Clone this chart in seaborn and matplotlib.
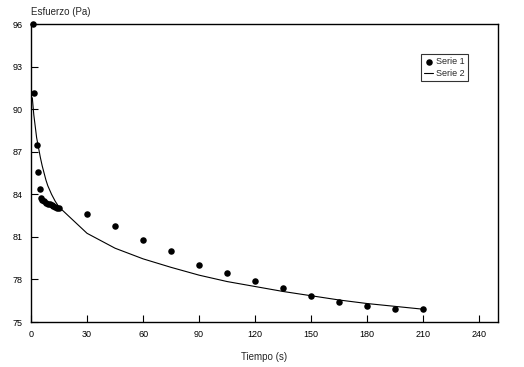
import matplotlib
matplotlib.use('Agg')
import matplotlib.pyplot as plt
import seaborn as sns
import pandas as pd

# datos
tiempo_1 = [1, 1.5, 3, 4, 5, 5.5, 6, 7, 8, 9, 10, 11, 12, 13, 14, 15,
            30, 45, 60, 75, 90, 105, 120, 135, 150, 165, 180, 195, 210]
esfuerzo_1 = [96.0, 91.15, 87.5, 85.6, 84.4, 83.75, 83.6, 83.5, 83.4, 83.35,
              83.3, 83.25, 83.2, 83.1, 83.05, 83.05,
              82.6, 81.75, 80.75, 80.0, 79.05, 78.45, 77.9, 77.4, 76.85,
              76.4, 76.15, 75.95, 75.9]

tiempo_2 = [0.7, 1.5, 3, 4, 5, 5.5, 6, 7, 8, 9, 10, 11, 12, 13, 14, 15,
            30, 45, 60, 75, 90, 105, 120, 135, 150, 165, 180, 195, 210]
esfuerzo_2 = [90.8, 89.6, 88.0, 87.3, 86.6, 86.3, 86.0, 85.5, 85.0, 84.6,
              84.3, 84.0, 83.75, 83.5, 83.3, 83.1,
              81.25, 80.2, 79.45, 78.85, 78.3, 77.85, 77.5, 77.15, 76.85,
              76.55, 76.3, 76.1, 75.9]

x_ticks = [0, 30, 60, 90, 120, 150, 180, 210, 240]
y_ticks = [75, 78, 81, 84, 87, 90, 93, 96]

sns.set_style("ticks")
plt.rcParams['font.family'] = ['Liberation Sans', 'DejaVu Sans']
plt.rcParams['font.size'] = 6.5

df1 = pd.DataFrame({'t': tiempo_1, 'v': esfuerzo_1})
df2 = pd.DataFrame({'t': tiempo_2, 'v': esfuerzo_2})

fig = plt.figure(figsize=(5.24, 3.67), dpi=100)
ax = fig.add_axes([31 / 524, 1 - 322 / 367, 467 / 524, 298 / 367])

sns.lineplot(data=df2, x='t', y='v', ax=ax, color='black', linewidth=0.8,
             label='Serie 2', sort=False)
sns.scatterplot(data=df1, x='t', y='v', ax=ax, color='black', s=22,
                edgecolor='black', linewidth=0, label='Serie 1', clip_on=False,
                zorder=3)

ax.set_xlim(0, 250)
ax.set_ylim(75, 96)
ax.set_xticks(x_ticks)
ax.set_yticks(y_ticks)
ax.tick_params(direction='in', length=5, width=0.8, colors='black',
               labelsize=6.5, top=False, right=False)
ax.tick_params(axis='y', pad=6)
ax.tick_params(axis='x', pad=6)
for s in ax.spines.values():
    s.set_linewidth(1.0)
    s.set_color('black')

ax.set_xlabel('Tiempo (s)', fontsize=7, labelpad=9)
ax.set_ylabel('')
fig.text(31 / 524, 1 - 12 / 367, 'Esfuerzo (Pa)', fontsize=7,
         ha='left', va='center')

handles, labels = ax.get_legend_handles_labels()
order = [labels.index('Serie 1'), labels.index('Serie 2')]
leg = ax.legend([handles[i] for i in order], [labels[i] for i in order],
                loc='upper left', bbox_to_anchor=((421 - 31) / 467, (322 - 54) / 298),
                frameon=True, fancybox=False, fontsize=6.5, handlelength=1.0,
                handletextpad=0.3, borderpad=0.35, labelspacing=0.35,
                borderaxespad=0)
leg.get_frame().set_edgecolor('black')
leg.get_frame().set_linewidth(0.8)

fig.savefig('out.png', dpi=100)
